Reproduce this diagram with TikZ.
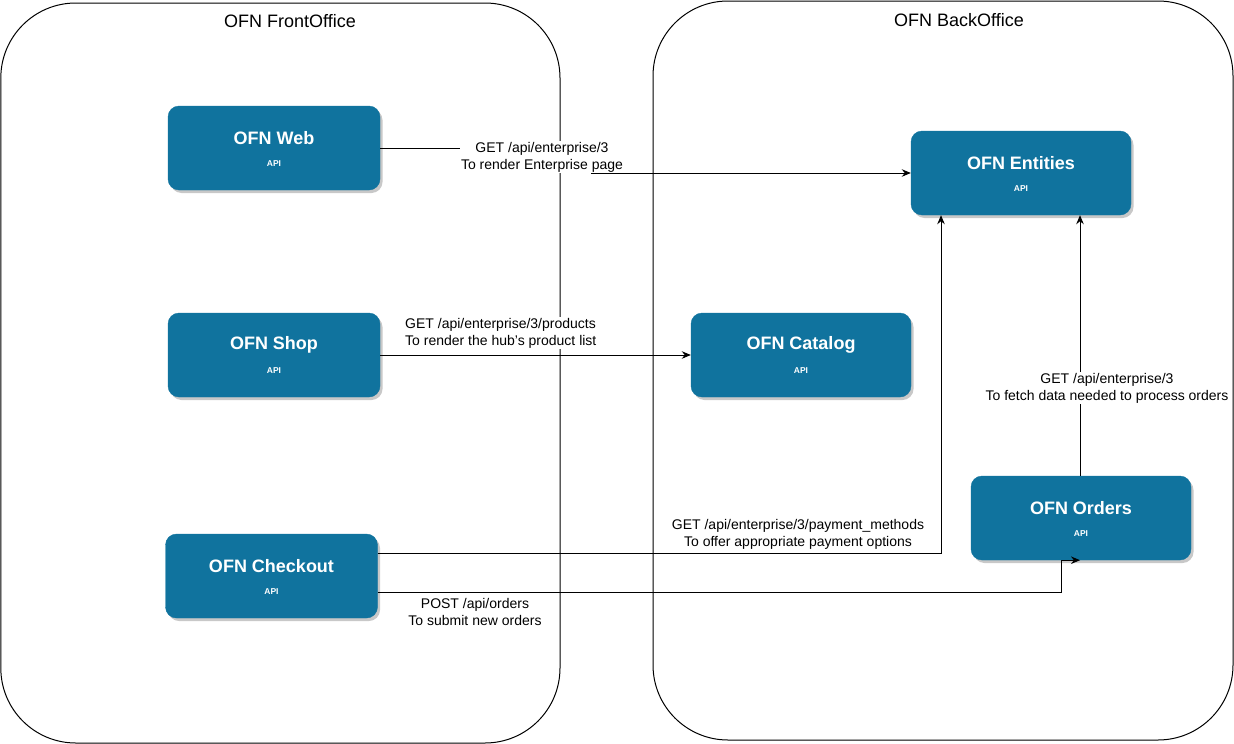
\documentclass[tikz,border=0pt]{standalone}
\usepackage{fontspec}
\setmainfont{Liberation Sans}
\usetikzlibrary{shadows,arrows.meta}
\definecolor{ofnblue}{HTML}{10739E}
\definecolor{shadowgray}{HTML}{C8C8C8}
\tikzset{
  container/.style={draw=black, line width=1pt, rounded corners=75pt},
  ofnbox/.style={draw=ofnblue, fill=ofnblue, rounded corners=11pt, minimum height=84pt,
    drop shadow={shadow xshift=2.5pt, shadow yshift=-3pt, fill=shadowgray, opacity=1}},
  frontbox/.style={ofnbox, minimum width=212pt},
  backbox/.style={ofnbox, minimum width=220pt},
  titletext/.style={text=white, font=\fontsize{18}{20}\selectfont\bfseries, inner sep=0pt},
  apitext/.style={text=white, font=\fontsize{8.5}{10}\selectfont\bfseries, inner sep=0pt},
  grouptext/.style={font=\fontsize{18}{21}\selectfont, inner sep=0pt},
  edgelabel/.style={font=\fontsize{14}{17}\selectfont, fill=white, inner sep=1pt},
  conn/.style={line width=1pt, -{Stealth[length=9pt,width=7.5pt]}},
}
\newcommand\ofnnode[4]{%
  \node[#4] (#1) at (#2) {};
  \node[titletext] (#1-t) at ([yshift=10pt]#1.center) {#3};
  \node[apitext] (#1-a) at ([yshift=-16pt]#1.center) {API};
}
\begin{document}
\begin{tikzpicture}[x=1pt,y=-1pt]
\useasboundingbox (0,0) rectangle (1234,744);
% containers
\draw[container] (0.8,3) rectangle (560,743);
\draw[container] (653,1) rectangle (1233,740);
\node[grouptext] (front) at (290,21) {OFN FrontOffice};
\node[grouptext] (back) at (959,20) {OFN BackOffice};
% boxes
\ofnnode{web}{274,148}{OFN Web}{frontbox}
\ofnnode{shop}{274,355}{OFN Shop}{frontbox}
\ofnnode{chk}{271.5,576}{OFN Checkout}{frontbox}
\ofnnode{ents}{1021,173}{OFN Entities}{backbox}
\ofnnode{cat}{801,355}{OFN Catalog}{backbox}
\ofnnode{ord}{1081,518}{OFN Orders}{backbox}
% connectors
\coordinate (bend1) at (591,173);
\draw[conn] (web.east) -| (bend1) -- (ents.west);
\node[edgelabel, align=center] (l1) at (542,157) {GET /api/enterprise/3\\To render Enterprise page};

\draw[conn] (shop.east) -- (cat.west);
\node[edgelabel, align=left, anchor=west] (l2) at (404,333) {GET /api/enterprise/3/products\\To render the hub's product list};

\draw[conn] ([yshift=23pt]chk.east) -| ([xshift=-80pt]ents.south);
\node[edgelabel, align=center] (l3) at (798,534) {GET /api/enterprise/3/payment\_methods\\To offer appropriate payment options};

\draw[conn] ([yshift=-16.5pt]chk.east) -| ([xshift=-20pt]ord.south) -- ([xshift=-1pt]ord.south);
\node[edgelabel, align=center] (l4) at (475,612) {POST /api/orders\\To submit new orders};

\draw[conn] ([xshift=-1pt]ord.north) -- ([xshift=-1pt]ord.north |- ents.south);
\node[edgelabel, align=center] (l5) at (1107,388) {GET /api/enterprise/3\\To fetch data needed to process orders};
\end{tikzpicture}
\end{document}
